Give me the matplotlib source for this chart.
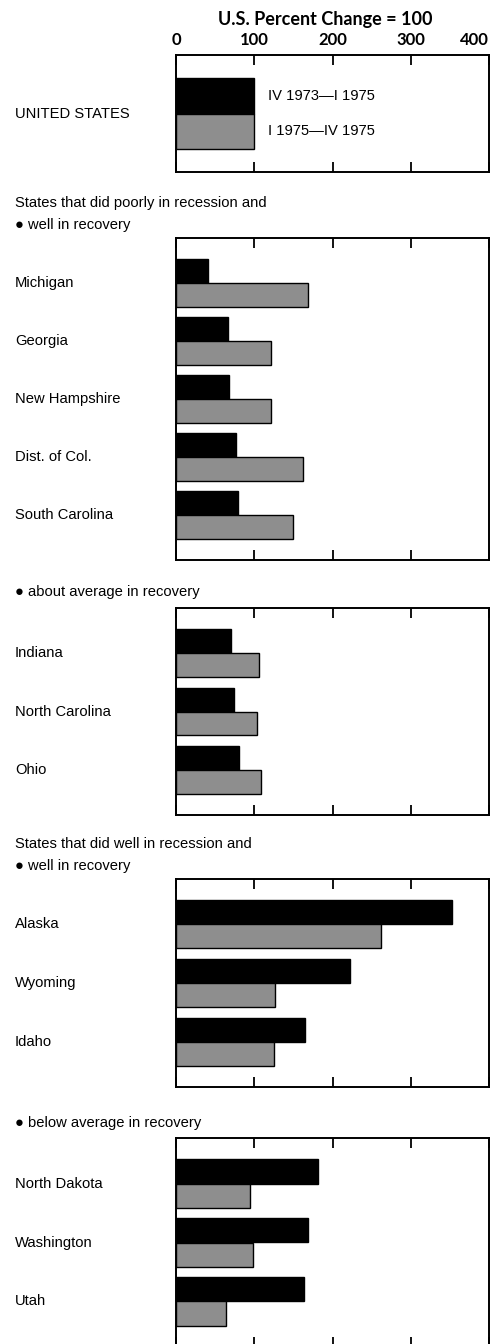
import matplotlib
matplotlib.use("Agg")
import matplotlib.pyplot as plt
from matplotlib.transforms import blended_transform_factory

# values relative to U.S. percent change = 100
us_states = ["UNITED STATES"]
us_recession = [100]
us_recovery = [100]

poor_well_states = ["Michigan", "Georgia", "New Hampshire", "Dist. of Col.", "South Carolina"]
poor_well_recession = [41, 66, 68, 77, 79]
poor_well_recovery = [169, 122, 122, 162, 150]

poor_avg_states = ["Indiana", "North Carolina", "Ohio"]
poor_avg_recession = [70, 74, 81]
poor_avg_recovery = [106, 104, 108]

well_well_states = ["Alaska", "Wyoming", "Idaho"]
well_well_recession = [353, 222, 165]
well_well_recovery = [262, 127, 125]

well_below_states = ["North Dakota", "Washington", "Utah"]
well_below_recession = [182, 169, 164]
well_below_recovery = [95, 99, 64]

ticks = [0, 100, 200, 300, 400]
legend_labels = ["IV 1973\u2014I 1975", "I 1975\u2014IV 1975"]

W, H = 504, 1344
LABEL_FONT = ["Liberation Sans", "DejaVu Sans"]
FS = 10.6
GRAY = "#8e8e8e"

fig = plt.figure(figsize=(W / 100, H / 100), dpi=100)


def fy(y):
    return 1 - y / H


def panel(top, bottom, states, black, gray, bar_h=0.41, pad=0.775):
    ax = fig.add_axes([176 / W, fy(bottom), (489 - 176) / W, (bottom - top) / H])
    n = len(states)
    pos = list(range(n))
    ax.barh([p - bar_h / 2 for p in pos], black, height=bar_h, color="black",
            edgecolor="black", linewidth=1)
    ax.barh([p + bar_h / 2 for p in pos], gray, height=bar_h, color=GRAY,
            edgecolor="black", linewidth=1)
    ax.set_xlim(0, 400)
    ax.set_ylim(n - 1 + pad, -pad)
    ax.set_yticks([])
    ax.set_xticks(ticks)
    ax.tick_params(axis="x", direction="in", length=7.5, width=1.3, top=True,
                   bottom=True, labelbottom=False, labeltop=False)
    for s in ax.spines.values():
        s.set_linewidth(1.4)
    tr = blended_transform_factory(fig.transFigure, ax.transData)
    for p, name in zip(pos, states):
        ax.text(15 / W, p, name, transform=tr, ha="left", va="center",
                fontsize=FS, family=LABEL_FONT)
    return ax


def heading(y, text):
    fig.text(15 / W, fy(y), text, ha="left", va="center", fontsize=FS,
             family=LABEL_FONT)


# U.S. panel with the scale on top
ax0 = panel(55, 172, us_states, us_recession, us_recovery, bar_h=0.6, pad=1.0)
ax0.tick_params(axis="x", labeltop=True, pad=5)
for lab in ax0.get_xticklabels():
    lab.set_fontsize(12)
    lab.set_fontweight("bold")
    lab.set_family("Lato")
ax0.get_xticklabels()[-1].set_horizontalalignment("right")
ax0.text(118, -0.3, legend_labels[0], ha="left", va="center", fontsize=FS,
         family=LABEL_FONT)
ax0.text(118, 0.3, legend_labels[1], ha="left", va="center", fontsize=FS,
         family=LABEL_FONT)
fig.text(325 / W, fy(20), "U.S. Percent Change = 100", ha="center", va="center",
         fontsize=13, fontweight="bold", family="Lato")

heading(203, "States that did poorly in recession and")
heading(225, "\u25cf well in recovery")
panel(238, 560, poor_well_states, poor_well_recession, poor_well_recovery)

heading(592, "\u25cf about average in recovery")
panel(608, 815, poor_avg_states, poor_avg_recession, poor_avg_recovery)

heading(844, "States that did well in recession and")
heading(866, "\u25cf well in recovery")
panel(879, 1087, well_well_states, well_well_recession, well_well_recovery)

heading(1123, "\u25cf below average in recovery")
panel(1138, 1347, well_below_states, well_below_recession, well_below_recovery)

fig.savefig("out.png", dpi=100)
